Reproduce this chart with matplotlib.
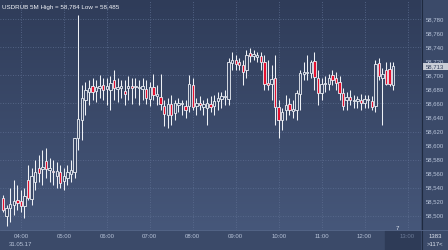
import numpy as np
import matplotlib
matplotlib.use('Agg')
import matplotlib.pyplot as plt
from matplotlib.patches import Rectangle
from matplotlib.colors import LinearSegmentedColormap

# 5 minute candles, USDRUB, 31.05.17 from 03:35
start_minute = 3 * 60 + 35
step_minutes = 5

opens = [58.525, 58.500, 58.511, 58.515, 58.522, 58.521, 58.514, 58.551, 58.524, 58.548,
         58.568, 58.567, 58.578, 58.565, 58.564, 58.557, 58.562, 58.549, 58.554, 58.559,
         58.562, 58.611, 58.636, 58.665, 58.676, 58.685, 58.678, 58.682, 58.686, 58.681,
         58.679, 58.693, 58.681, 58.682, 58.678, 58.682, 58.685, 58.683, 58.682, 58.681,
         58.681, 58.666, 58.683, 58.671, 58.669, 58.656, 58.644, 58.659, 58.646, 58.658,
         58.659, 58.656, 58.656, 58.686, 58.656, 58.661, 58.655, 58.654, 58.659, 58.656,
         58.664, 58.666, 58.669, 58.666, 58.718, 58.722, 58.719, 58.715, 58.708, 58.732,
         58.728, 58.726, 58.728, 58.719, 58.689, 58.688, 58.696, 58.655, 58.636, 58.651,
         58.659, 58.649, 58.651, 58.673, 58.702, 58.703, 58.703, 58.720, 58.696, 58.675,
         58.688, 58.688, 58.701, 58.696, 58.691, 58.675, 58.665, 58.669, 58.664, 58.664,
         58.665, 58.661, 58.665, 58.664, 58.656, 58.718, 58.696, 58.708, 58.709, 58.686]
highs = [58.530, 58.515, 58.539, 58.551, 58.544, 58.537, 58.539, 58.572, 58.568, 58.579,
         58.587, 58.594, 58.597, 58.582, 58.579, 58.577, 58.572, 58.568, 58.572, 58.579,
         58.608, 58.786, 58.686, 58.691, 58.693, 58.696, 58.693, 58.701, 58.696, 58.696,
         58.699, 58.708, 58.696, 58.693, 58.693, 58.699, 58.696, 58.696, 58.693, 58.696,
         58.693, 58.691, 58.702, 58.686, 58.702, 58.665, 58.668, 58.672, 58.665, 58.668,
         58.665, 58.665, 58.701, 58.696, 58.668, 58.671, 58.665, 58.668, 58.671, 58.672,
         58.676, 58.676, 58.679, 58.725, 58.733, 58.729, 58.725, 58.722, 58.736, 58.739,
         58.736, 58.733, 58.733, 58.729, 58.722, 58.715, 58.729, 58.665, 58.654, 58.672,
         58.668, 58.665, 58.679, 58.708, 58.719, 58.729, 58.722, 58.733, 58.708, 58.696,
         58.699, 58.702, 58.708, 58.705, 58.699, 58.682, 58.676, 58.679, 58.672, 58.671,
         58.673, 58.672, 58.672, 58.671, 58.722, 58.725, 58.711, 58.719, 58.719, 58.719]
lows = [58.505, 58.485, 58.491, 58.501, 58.508, 58.505, 58.497, 58.522, 58.515, 58.537,
        58.548, 58.544, 58.554, 58.548, 58.544, 58.539, 58.539, 58.537, 58.544, 58.548,
        58.554, 58.594, 58.608, 58.644, 58.658, 58.665, 58.662, 58.668, 58.665, 58.658,
        58.651, 58.665, 58.662, 58.668, 58.658, 58.665, 58.659, 58.668, 58.658, 58.665,
        58.659, 58.656, 58.665, 58.658, 58.651, 58.628, 58.625, 58.629, 58.636, 58.648,
        58.644, 58.639, 58.648, 58.651, 58.644, 58.651, 58.644, 58.629, 58.648, 58.644,
        58.651, 58.654, 58.658, 58.658, 58.708, 58.708, 58.708, 58.686, 58.696, 58.719,
        58.722, 58.719, 58.708, 58.679, 58.679, 58.665, 58.629, 58.611, 58.622, 58.636,
        58.644, 58.639, 58.636, 58.651, 58.693, 58.693, 58.696, 58.679, 58.658, 58.665,
        58.676, 58.679, 58.686, 58.679, 58.665, 58.651, 58.651, 58.658, 58.654, 58.654,
        58.651, 58.654, 58.654, 58.651, 58.648, 58.693, 58.629, 58.686, 58.685, 58.679]
closes = [58.508, 58.511, 58.517, 58.521, 58.518, 58.514, 58.528, 58.525, 58.557, 58.562,
          58.561, 58.569, 58.567, 58.568, 58.562, 58.564, 58.547, 58.557, 58.562, 58.565,
          58.611, 58.638, 58.668, 58.679, 58.682, 58.676, 58.683, 58.685, 58.679, 58.685,
          58.689, 58.682, 58.683, 58.685, 58.673, 58.685, 58.682, 58.685, 58.683, 58.685,
          58.668, 58.683, 58.672, 58.673, 58.659, 58.645, 58.659, 58.644, 58.661, 58.661,
          58.661, 58.651, 58.688, 58.655, 58.661, 58.658, 58.659, 58.661, 58.655, 58.664,
          58.668, 58.671, 58.671, 58.719, 58.722, 58.716, 58.715, 58.705, 58.729, 58.728,
          58.731, 58.729, 58.719, 58.688, 58.686, 58.695, 58.655, 58.636, 58.648, 58.658,
          58.651, 58.652, 58.675, 58.703, 58.705, 58.705, 58.719, 58.698, 58.675, 58.688,
          58.689, 58.696, 58.693, 58.689, 58.675, 58.656, 58.669, 58.665, 58.665, 58.666,
          58.661, 58.666, 58.666, 58.655, 58.716, 58.699, 58.702, 58.688, 58.688, 58.713]

price_ticks = np.round(np.arange(58.500, 58.781, 0.020), 3)
grid_prices = np.round(np.arange(58.500, 58.781, 0.040), 3)
hours = [4, 5, 6, 7, 8, 9, 10, 11, 12, 13]
date_label = "31.05.17"
title = "USDRUB 5M High = 58,784 Low = 58,485"
last_price = "58,713"

BG_TOP = '#2f3c59'
BG_BOTTOM = '#46577a'
HOLLOW = '#3a4867'
RED = '#e5102f'
WHITE = '#eef1f6'
LABEL = '#b9c5da'
GRID = '#5d6e91'

W, H = 448, 250
plt.rcParams['font.family'] = ['Liberation Sans', 'DejaVu Sans']

fig = plt.figure(figsize=(W / 100, H / 100), dpi=100)
fig.patch.set_facecolor('#3b4a69')

x0, x1 = 210.8, 798.8
y0, y1 = 58.4796, 58.8075

ax = fig.add_axes([0, 20 / H, 421 / W, 230 / H])
ax.set_xlim(x0, x1)
ax.set_ylim(y0, y1)
ax.axis('off')

cmap = LinearSegmentedColormap.from_list('bg', [BG_TOP, BG_BOTTOM])
ax.imshow(np.linspace(0, 1, 256).reshape(-1, 1), extent=[x0, x1, y0, y1],
          aspect='auto', cmap=cmap, origin='upper', zorder=0)

# dotted grid
for p in grid_prices:
    ax.axhline(p, color=GRID, lw=0.6, ls=(0, (1, 2)), zorder=1)
for hr in hours:
    ax.axvline(hr * 60, color=GRID, lw=0.6, ls=(0, (1, 2)), zorder=1)

# candles
minutes = start_minute + step_minutes * np.arange(len(opens))
body_w = 3.3
for m, o, h, l, c in zip(minutes, opens, highs, lows, closes):
    top, bot = max(o, c), min(o, c)
    ax.vlines(m, top, h, color=WHITE, lw=0.75, zorder=2)
    ax.vlines(m, l, bot, color=WHITE, lw=0.75, zorder=2)
    face = RED if c < o else HOLLOW
    ax.add_patch(Rectangle((m - body_w / 2, bot), body_w, max(top - bot, 0.0008),
                           facecolor=face, edgecolor=WHITE, lw=0.6, zorder=3))

# right price scale
for p in price_ticks:
    ax.text(1.033, p, f"{p:.3f}".replace('.', ','), transform=ax.get_yaxis_transform(),
            ha='center', va='center', fontsize=4.3, color=LABEL, clip_on=False)

# current price tag
fig.patches.append(Rectangle((423 / W, 1 - 70 / H), 25 / W, 7 / H, transform=fig.transFigure,
                             facecolor='#c9ced7', edgecolor='none'))
fig.text(435 / W, 1 - 66.5 / H, last_price, ha='center', va='center', fontsize=4.3, color='#33405c')

# separators
fig.add_artist(plt.Line2D([421.5 / W, 421.5 / W], [0, 1], color='#1f2a40', lw=0.8))
fig.add_artist(plt.Line2D([0, 1], [20 / H, 20 / H], color='#56678a', lw=0.6))

# time strip
ax2 = fig.add_axes([0, 0, 421 / W, 20 / H])
ax2.set_xlim(x0, x1)
ax2.set_ylim(0, 1)
ax2.axis('off')
ax2.axvspan(748.5, x1, color='#2e3b57', zorder=0)
for hr in hours:
    col = '#6d7b98' if hr == 13 else LABEL
    ax2.text(hr * 60, 0.68, f"{hr:02d}:00", ha='center', va='center', fontsize=4.3, color=col)
ax2.text(4 * 60, 0.27, date_label, ha='center', va='center', fontsize=4.3, color=LABEL)

fig.text(435 / W, 1 - 236 / H, "1383", ha='center', va='center', fontsize=4.3, color='#dde3ee')
fig.text(435 / W, 1 - 244 / H, ">117<", ha='center', va='center', fontsize=4.3, color='#dde3ee')
fig.text(397 / W, 1 - 228 / H, "7", ha='center', va='center', fontsize=4.3, color='#dde3ee')

fig.text(2 / W, 1 - 7 / H, title, ha='left', va='center', fontsize=4.5, color='#f2f4f8')

fig.savefig('out.png', dpi=100, facecolor=fig.get_facecolor())
